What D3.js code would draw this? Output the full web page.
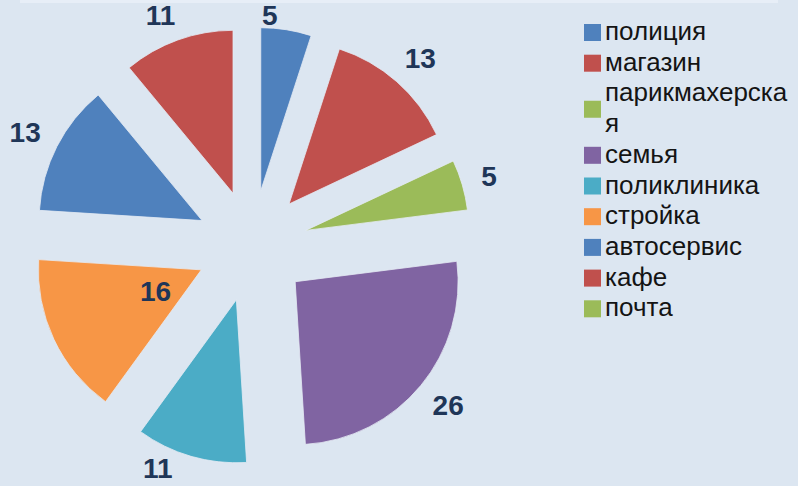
<!DOCTYPE html>
<html>
<head>
<meta charset="utf-8">
<script src="https://cdn.jsdelivr.net/npm/d3@7"></script>
<style>
    body { margin: 0; background: #dce6f1; }
    svg { display: block; }
    .sliceLabel { font-family: "Liberation Sans", Arial, sans-serif; font-weight: bold; font-size: 28px; fill: #1f3658; }
    .legendText { font-family: "Liberation Sans", Arial, sans-serif; font-size: 26px; fill: #141414; }
</style>
</head>
<body>
<script>
//data
var categories = ["полиция", "магазин", "парикмахерская", "семья", "поликлиника", "стройка", "автосервис", "кафе", "почта"];
var values = [5, 13, 5, 26, 11, 16, 13, 11, 0];
var colors = ["#4f81bd", "#c0504d", "#9bbb59", "#8064a2", "#4bacc6", "#f79646", "#4f81bd", "#c0504d", "#9bbb59"];

//this one label sits inside its slice in the original
var insideLabels = ["стройка"];

window.onload = drawChart;

function drawChart(){
    var width = 798,
        height = 486,
        cx = 252,
        cy = 246,
        radius = 163,
        explode = 56;

    var svg = d3.select("body")
        .append("svg")
        .attr("width", width)
        .attr("height", height);

    svg.append("rect")
        .attr("width", width)
        .attr("height", height)
        .attr("fill", "#dce6f1");

    //faint lighter strip along the top edge
    svg.append("rect")
        .attr("x", 20)
        .attr("width", width - 40)
        .attr("height", 3)
        .attr("fill", "#e7eef7");

    var pie = d3.pie()
        .sort(null)
        .value(function(d){ return d.value; });

    var arc = d3.arc()
        .innerRadius(0)
        .outerRadius(radius);

    var data = categories.map(function(c, i){
        return { name: c, value: values[i], color: colors[i] };
    });

    var arcs = pie(data);

    function midAngle(d){ return (d.startAngle + d.endAngle) / 2; }

    var slices = svg.append("g")
        .attr("transform", "translate(" + cx + "," + cy + ")");

    slices.selectAll(".slice")
        .data(arcs.filter(function(d){ return d.data.value > 0; }))
        .enter()
        .append("path")
        .attr("class", "slice")
        .attr("transform", function(d){
            var a = midAngle(d);
            return "translate(" + (explode * Math.sin(a)) + "," + (-explode * Math.cos(a)) + ")";
        })
        .attr("d", arc)
        .attr("fill", function(d){ return d.data.color; })
        .attr("stroke", "#e4ebf4")
        .attr("stroke-width", 0.8);

    //data labels
    var labels = slices.selectAll(".sliceLabel")
        .data(arcs.filter(function(d){ return d.data.value > 0; }))
        .enter()
        .append("text")
        .attr("class", "sliceLabel")
        .attr("text-anchor", "middle")
        .attr("dominant-baseline", "central")
        .text(function(d){ return d.data.value; });

    labels.each(function(d){
        var a = midAngle(d),
            s = Math.sin(a),
            c = Math.cos(a),
            w = this.getComputedTextLength(),
            h = 22,
            x, y;
        if (insideLabels.indexOf(d.data.name) >= 0){
            var rr = explode + radius * 0.31;
            x = rr * s;
            y = -rr * c;
        } else {
            var ro = explode + radius + 20;
            x = ro * s + (w / 2) * s;
            y = -ro * c - (h / 2) * c;
        }
        //keep labels inside the picture, sliding them sideways along the edge
        var yc = Math.max(15 - cy, Math.min(468 - cy, y));
        x -= 1.3 * Math.abs(yc - y);
        d3.select(this).attr("x", x).attr("y", yc);
    });

    //legend
    var legendX = 584,
        textX = 605,
        rowH = 30.7,
        maxW = 192,
        y = 31;

    var legend = svg.append("g").attr("class", "legend");

    data.forEach(function(d){
        //break long names by letter, like the original legend does
        var lines = [],
            current = "",
            probe = legend.append("text").attr("class", "legendText");
        d.name.split("").forEach(function(ch){
            probe.text(current + ch);
            if (probe.node().getComputedTextLength() > maxW && current.length > 0){
                lines.push(current);
                current = ch;
            } else {
                current += ch;
            }
        });
        lines.push(current);
        probe.remove();

        var firstY = y,
            lastY = y + (lines.length - 1) * rowH;

        legend.append("rect")
            .attr("x", legendX)
            .attr("y", (firstY + lastY) / 2 - 7)
            .attr("width", 17)
            .attr("height", 17)
            .attr("fill", d.color);

        lines.forEach(function(line, i){
            legend.append("text")
                .attr("class", "legendText")
                .attr("x", textX)
                .attr("y", firstY + i * rowH)
                .attr("dominant-baseline", "central")
                .text(line);
        });

        y = lastY + rowH;
    });
}
</script>
</body>
</html>
